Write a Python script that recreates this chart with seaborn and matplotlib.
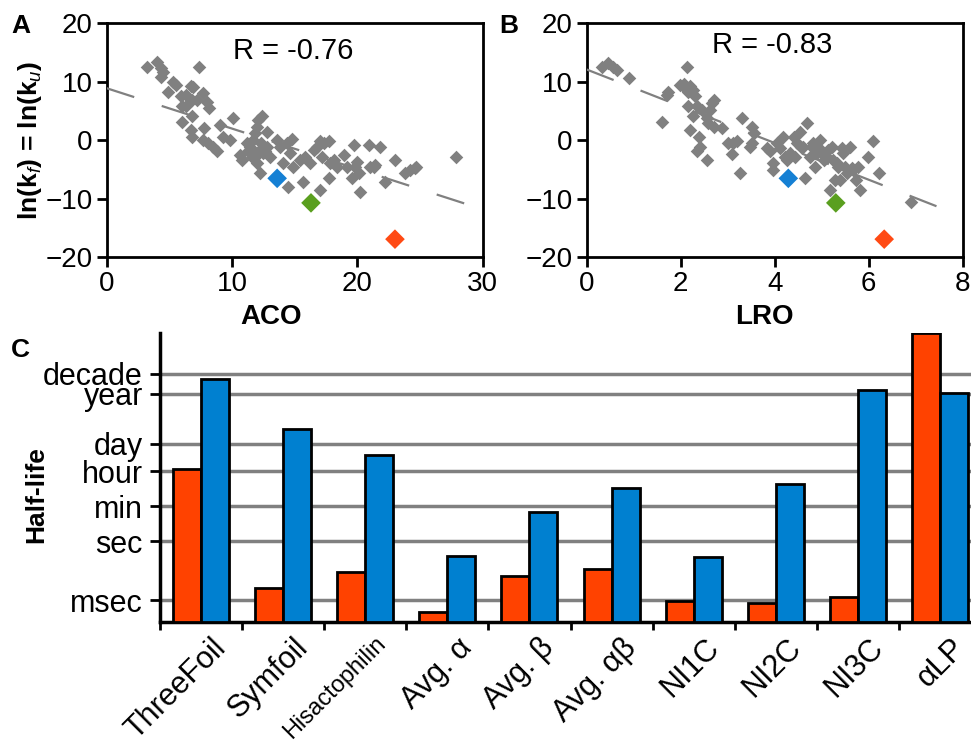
import numpy as np
import pandas as pd
import matplotlib
matplotlib.use("Agg")
import matplotlib.pyplot as plt
import matplotlib.transforms as mtrans
import seaborn as sns

# ---------------- data: panel A (ACO) ----------------
aco_x = [3.2, 4.0, 4.3, 4.5, 4.3, 7.4, 4.9, 5.3, 5.5, 5.9, 6.3, 6.7, 6.9, 7.2, 6.8,
         6.0, 6.3, 6.8, 6.0, 6.7, 6.8, 7.7, 8.0, 8.2, 7.8, 7.7, 8.1, 8.5, 8.8, 9.0,
         9.3, 9.8, 10.1, 10.6, 10.8, 11.2, 11.4, 11.7, 11.8, 12.0, 12.1, 12.4, 12.2,
         12.5, 12.8, 12.8, 12.0, 12.2, 13.0, 13.6, 13.8, 14.1, 14.4, 14.6, 14.5, 14.8,
         14.9, 15.4, 15.7, 15.8, 16.2, 16.5, 16.8, 17.0, 17.2, 17.0, 17.3, 17.7, 17.8,
         17.7, 18.1, 18.4, 18.9, 19.2, 19.6, 19.7, 19.8, 20.0, 20.1, 20.2, 20.9, 21.0,
         21.3, 21.4, 21.8, 22.2, 23.0, 23.8, 24.2, 24.6, 24.7, 27.9,
         11.5, 11.9, 12.3, 11.6, 12.6, 11.3]
aco_y = [12.6, 13.3, 12.3, 11.7, 10.8, 12.5, 8.3, 10.0, 9.5, 7.5, 7.8, 9.3, 9.1, 6.9, 6.9,
         5.8, 5.8, 4.1, 3.2, 1.8, 0.6, 8.0, 6.6, 5.5, 2.1, 0.1, -0.5, -1.1, -1.9, 2.6,
         0.6, 0.1, 3.8, -2.5, -3.4, -0.5, -1.1, 0.1, 1.2, 2.3, 3.5, 4.1, -1.7,
         -2.2, -1.1, 1.5, -3.9, -5.6, -2.8, 0.1, -1.1, -3.9, -0.5, -2.2, -7.9, 0.3,
         -4.5, -3.4, -7.1, -2.8, -3.9, -1.7, -1.1, -0.2, -2.8, -8.5, -0.5, -0.2, -3.9,
         -6.5, -3.4, -4.5, -2.5, -4.5, -6.5, -0.8, -4.5, -3.7, -5.6, -8.8, -0.8, -4.5,
         -4.5, -4.2, -1.1, -7.1, -3.4, -5.6, -5.1, -4.8, -4.5, -2.8,
         -1.6, -2.6, -0.4, -2.9, -1.9, -1.9]

# ---------------- data: panel B (LRO) ----------------
lro_x = [0.32, 0.46, 0.57, 0.64, 0.89, 1.60, 1.70, 1.74, 1.99, 2.06, 2.13, 2.09, 2.16,
         2.20, 2.27, 2.30, 2.16, 2.34, 2.27, 2.20, 2.45, 2.62, 2.70, 2.66, 2.55, 2.59,
         2.70, 2.87, 2.38, 2.41, 2.34, 2.55, 3.01, 3.12, 3.19, 3.09, 3.30, 3.26, 3.51,
         3.55, 3.51, 3.48, 3.83, 3.90, 3.97, 3.97, 4.04, 4.11, 4.18, 4.22, 4.26, 4.33,
         4.40, 4.43, 4.47, 4.54, 4.57, 4.61, 4.65, 4.68, 4.75, 4.79, 4.82, 4.86, 4.89,
         4.93, 4.96, 5.00, 5.04, 5.11, 5.14, 5.18, 5.21, 5.25, 5.28, 5.32, 5.35, 5.39,
         5.43, 5.46, 5.50, 5.53, 5.60, 5.64, 5.67, 5.74, 5.78, 5.82, 5.99, 6.10, 6.21,
         6.91]
lro_y = [12.6, 13.2, 12.6, 12.0, 10.7, 3.2, 7.8, 8.3, 9.5, 9.7, 12.6, 8.9, 8.3,
         9.2, 8.6, 7.5, 5.8, 5.8, 4.1, 1.8, 5.2, 5.2, 6.9, 6.3, 3.8, 2.9,
         2.3, 2.1, 0.6, -1.1, -1.9, -3.4, -0.5, -0.5, -0.2, -2.3, 3.8, -5.6, 2.3,
         1.2, -0.5, -1.1, -1.4, -1.9, -3.9, -5.1, -0.5, -1.4, 0.6, -2.8, -3.4, -2.2,
         0.6, -2.8, -0.5, 1.5, -1.1, -1.1, -6.5, 2.9, -2.8, -1.1, -0.5, -4.5, -2.2,
         -1.1, 0.1, -2.2, -3.4, -2.8, -1.7, -8.5, -1.1, -3.4, -6.8, -3.9, -4.5, -6.8,
         -1.4, -2.2, -4.5, -5.6, -1.1, -4.8, -5.1, -6.8, -4.5, -8.5, -2.8, -0.2, -5.6,
         -10.5]

# highlighted proteins (same ln k values in both panels)
highlight_names = ["ThreeFoil-blue", "Symfoil-green", "Hisactophilin-red"]
highlight_colors = ["#1580D4", "#5A9F1F", "#FF4A14"]
highlight_aco = [13.6, 16.3, 23.0]
highlight_lro = [4.29, 5.30, 6.33]
highlight_y = [-6.5, -10.7, -16.9]

# linear trend lines (intercept, slope) and x-extent
trend_aco = [8.9, -0.69]
trend_aco_x = [0.0, 28.6]
trend_lro = [12.1, -3.14]
trend_lro_x = [0.0, 7.48]
r_aco = "R = -0.76"
r_lro = "R = -0.83"

# ---------------- data: panel C (half-lives, log10 seconds) ----------------
proteins = ["ThreeFoil", "Symfoil", "Hisactophilin", "Avg. α", "Avg. β",
            "Avg. αβ", "NI1C", "NI2C", "NI3C", "αLP"]
fold_log10s = [3.67, -2.41, -1.59, -3.63, -1.78, -1.42, -3.05, -3.17, -2.86, 10.59]
unfold_log10s = [8.25, 5.70, 4.39, -0.74, 1.47, 2.72, -0.80, 2.91, 7.70, 7.50]
time_units = ["msec", "sec", "min", "hour", "day", "year", "decade"]
time_unit_seconds = [1e-3, 1.0, 60.0, 3600.0, 86400.0, 3.156e7, 3.156e8]

# ---------------- style ----------------
sns.set_theme(style="white")
plt.rcParams["font.family"] = ["Liberation Sans", "DejaVu Sans"]
plt.rcParams["mathtext.fontset"] = "custom"
plt.rcParams["mathtext.rm"] = "Liberation Sans"
plt.rcParams["mathtext.it"] = "Liberation Sans:italic"
plt.rcParams["mathtext.bf"] = "Liberation Sans:bold"
plt.rcParams["text.color"] = "black"
plt.rcParams["xtick.color"] = "black"
plt.rcParams["ytick.color"] = "black"
plt.rcParams["axes.labelcolor"] = "black"

W, H = 971, 744
fig = plt.figure(figsize=(W / 100, H / 100), dpi=100)


def px_axes(l, t, r, b):
    return fig.add_axes([l / W, 1 - b / H, (r - l) / W, (b - t) / H])


def fx(x):
    return x / W


def fy(y):
    return 1 - y / H


axA = px_axes(106.7, 23.3, 482.7, 257.3)
axB = px_axes(586.7, 23.3, 962.7, 257.3)
axC = px_axes(159.5, 332.5, 981.5, 621.7)

GRAY = "#808080"


def scatter_panel(ax, xs, ys, hx, trend, trend_x, xmax, xticks, rtext, rxy):
    df = pd.DataFrame({"x": xs, "y": ys})
    sns.scatterplot(data=df, x="x", y="y", ax=ax, marker="D", s=48,
                    color=GRAY, linewidth=0, zorder=3)
    hdf = pd.DataFrame({"x": hx, "y": highlight_y, "who": highlight_names})
    sns.scatterplot(data=hdf, x="x", y="y", hue="who",
                    palette=dict(zip(highlight_names, highlight_colors)),
                    marker="D", s=100, linewidth=0, legend=False, ax=ax, zorder=4)
    tx = np.array(trend_x)
    ax.plot(tx, trend[0] + trend[1] * tx, color=GRAY, lw=1.6,
            ls=(0, (13, 13)), zorder=5, solid_capstyle="butt")
    ax.set_xlim(0, xmax)
    ax.set_ylim(-20, 20)
    ax.set_xticks(xticks)
    ax.set_yticks([-20, -10, 0, 10, 20])
    ax.set_xlabel("")
    ax.set_ylabel("")
    for s in ax.spines.values():
        s.set_visible(True)
        s.set_color("black")
        s.set_linewidth(2)
    ax.tick_params(axis="both", which="major", direction="out", length=7,
                   width=2, color="black", labelcolor="black", labelsize=20,
                   pad=3, bottom=True, left=True)
    ax.text(rxy[0], rxy[1], rtext, transform=fig.transFigure, fontsize=21,
            ha="center", va="center", color="black")


scatter_panel(axA, aco_x, aco_y, highlight_aco, trend_aco, trend_aco_x,
              30, [0, 10, 20, 30], r_aco, (fx(293), fy(51)))
scatter_panel(axB, lro_x, lro_y, highlight_lro, trend_lro, trend_lro_x,
              8, [0, 2, 4, 6, 8], r_lro, (fx(772), fy(45)))

fig.text(fx(271), fy(317), "ACO", fontsize=20, fontweight="bold",
         ha="center", va="center")
fig.text(fx(764), fy(317), "LRO", fontsize=20, fontweight="bold",
         ha="center", va="center")
fig.text(fx(30), fy(140), r"ln(k$_f$) = ln(k$_u$)", fontsize=19,
         fontweight="bold", rotation=90, ha="center", va="center")
fig.text(fx(21), fy(26), "A", fontsize=19, fontweight="bold", ha="center", va="center")
fig.text(fx(509), fy(26), "B", fontsize=19, fontweight="bold", ha="center", va="center")
fig.text(fx(20), fy(350), "C", fontsize=19, fontweight="bold", ha="center", va="center")

# ---------------- panel C ----------------
BASE = -4.1
TOP = 10.6
bars = pd.DataFrame({
    "protein": proteins * 2,
    "kind": ["folding"] * len(proteins) + ["unfolding"] * len(proteins),
    "log10s": fold_log10s + unfold_log10s,
})
bars["height"] = bars["log10s"] - BASE
sns.barplot(data=bars, x="protein", y="height", hue="kind", order=proteins,
            hue_order=["folding", "unfolding"],
            palette={"folding": "#FF4200", "unfolding": "#0080D0"},
            width=0.68, edgecolor="black", linewidth=2, saturation=1,
            legend=False, ax=axC, zorder=3)
axC.set_xlim(-0.5, len(proteins) - 0.5)
axC.set_ylim(0, TOP - BASE)
unit_pos = np.log10(time_unit_seconds) - BASE
axC.set_yticks(unit_pos)
axC.set_yticklabels(time_units)
axC.yaxis.grid(True, color=GRAY, lw=2.5)
axC.xaxis.grid(False)
axC.set_axisbelow(True)
axC.set_xlabel("")
axC.set_ylabel("")
for side in ["top", "right"]:
    axC.spines[side].set_visible(False)
for side in ["left", "bottom"]:
    axC.spines[side].set_visible(True)
    axC.spines[side].set_color("black")
    axC.spines[side].set_linewidth(2.5)
axC.tick_params(axis="y", direction="out", length=7, width=2, color="black",
                labelcolor="black", labelsize=22, pad=5, left=True)
# category ticks at group boundaries, labels at centers
axC.set_xticks(np.arange(len(proteins) + 1) - 0.5, minor=False)
axC.set_xticklabels([""] * (len(proteins) + 1))
axC.tick_params(axis="x", which="major", direction="out", length=6, width=2,
                color="black", bottom=True)
axC.set_xticks(np.arange(len(proteins)), minor=True)
axC.set_xticklabels(proteins, minor=True, rotation=45, ha="right",
                    va="top", rotation_mode="anchor", fontsize=22)
axC.tick_params(axis="x", which="minor", length=0, pad=8, bottom=True,
                labelcolor="black")
offset = mtrans.ScaledTranslation(10 / 100, 0, fig.dpi_scale_trans)
for lab in axC.get_xticklabels(minor=True):
    lab.set_transform(lab.get_transform() + offset)
    if lab.get_text() == "Hisactophilin":
        lab.set_fontsize(17)

fig.text(fx(36), fy(495), "Half-life", fontsize=19, fontweight="bold",
         rotation=90, ha="center", va="center")

fig.savefig("out.png", dpi=100)
